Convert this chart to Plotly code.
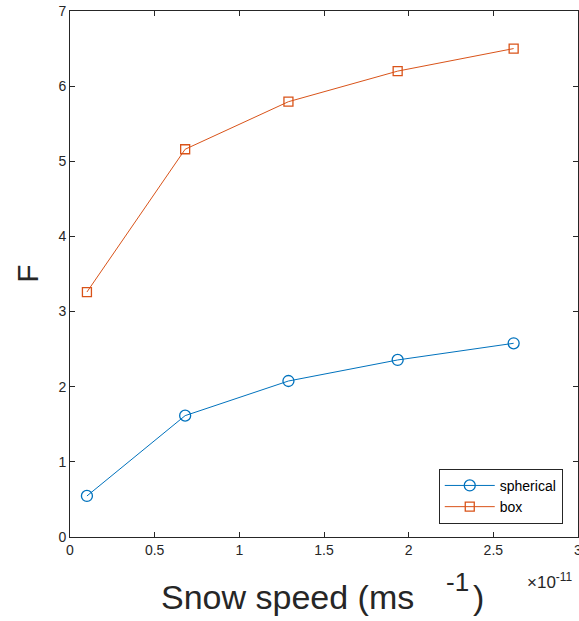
import plotly.graph_objects as go

speed = [0.10, 0.68, 1.29, 1.935, 2.62]  # x 1e-11
spherical = [0.546, 1.615, 2.076, 2.356, 2.578]
box = [3.26, 5.16, 5.793, 6.20, 6.50]
xticks = [0, 0.5, 1, 1.5, 2, 2.5, 3]
xticklabels = ["0", "0.5", "1", "1.5", "2", "2.5", "3"]
yticks = [0, 1, 2, 3, 4, 5, 6, 7]

BLUE = "#0072BD"
ORANGE = "#D95319"
AX = "#262626"
FONT = "Liberation Sans, Arial, sans-serif"

fig = go.Figure()
fig.add_trace(go.Scatter(
    x=speed, y=spherical, mode="lines+markers", name="spherical",
    line=dict(color=BLUE, width=1),
    marker=dict(symbol="circle-open", size=11, color=BLUE, line=dict(width=1.3, color=BLUE)),
))
fig.add_trace(go.Scatter(
    x=speed, y=box, mode="lines+markers", name="box",
    line=dict(color=ORANGE, width=1),
    marker=dict(symbol="square-open", size=9, color=ORANGE, line=dict(width=1.3, color=ORANGE)),
))

axis_common = dict(
    showgrid=False, zeroline=False, showline=True, linecolor=AX, linewidth=1,
    mirror="ticks", ticks="inside", ticklen=5, tickcolor=AX,
    tickfont=dict(family=FONT, size=14, color=AX),
    ticklabeloverflow="allow", automargin=False,
)
fig.update_xaxes(range=[0, 3], tickvals=xticks, ticktext=xticklabels, **axis_common)
fig.update_yaxes(range=[0, 7], tickvals=yticks, **axis_common)

# x-axis title in three pieces (MATLAB-like spacing of the superscript)
fig.add_annotation(
    text="Snow speed (ms", xref="paper", yref="paper",
    x=0.681, y=-0.0741, xanchor="right", yanchor="top", showarrow=False,
    font=dict(family=FONT, size=34, color=AX),
)
fig.add_annotation(
    text="-1", xref="paper", yref="paper",
    x=0.737, y=-0.0527, xanchor="left", yanchor="top", showarrow=False,
    font=dict(family=FONT, size=26, color=AX),
)
fig.add_annotation(
    text=")", xref="paper", yref="paper",
    x=0.789, y=-0.0741, xanchor="left", yanchor="top", showarrow=False,
    font=dict(family=FONT, size=34, color=AX),
)
fig.add_annotation(
    text="F", xref="paper", yref="paper", x=-0.085, y=0.5,
    xanchor="center", yanchor="middle", showarrow=False, textangle=-90,
    font=dict(family=FONT, size=30, color=AX),
)
fig.add_annotation(
    text="×10<sup>-11</sup>", xref="paper", yref="paper", x=0.994, y=-0.058,
    xanchor="right", yanchor="top", showarrow=False,
    font=dict(family=FONT, size=17, color=AX),
)

fig.update_layout(
    width=579, height=621,
    margin=dict(l=70, r=1, t=11, b=84, autoexpand=False),
    plot_bgcolor="white", paper_bgcolor="white",
    showlegend=True,
    legend=dict(
        x=0.97, y=0.025, xanchor="right", yanchor="bottom",
        bgcolor="white", bordercolor=AX, borderwidth=1,
        font=dict(family=FONT, size=14, color="black"),
        itemwidth=50, tracegroupgap=0,
    ),
)

fig.write_html("out.html")
